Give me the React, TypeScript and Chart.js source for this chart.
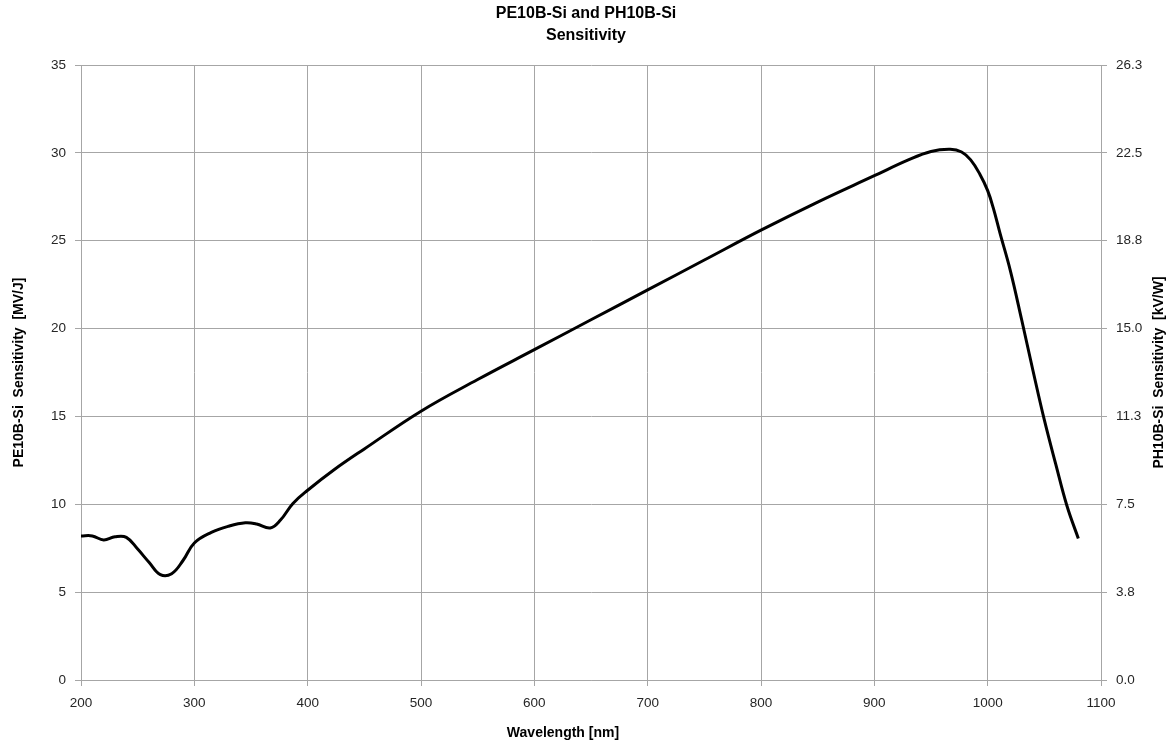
import React, { useEffect, useRef } from "react";
import { Chart, registerables } from "chart.js";

Chart.register(...registerables);

const chartTitle = ["PE10B-Si and PH10B-Si", "Sensitivity"];
const xTitle = "Wavelength [nm]";
const yLeftTitle = "PE10B-Si  Sensitivity  [MV/J]";
const yRightTitle = "PH10B-Si  Sensitivity  [kV/W]";

const wavelengths = [200, 210, 220, 230, 240, 250, 260, 270, 280, 290, 300, 315, 330, 345, 355, 367, 376, 387, 400, 423, 450, 500, 550, 600, 650, 700, 750, 800, 850, 900, 930, 950, 967, 977, 985, 993, 1000, 1005, 1011, 1020, 1030, 1040, 1050, 1060, 1070, 1080];
const sensitivity = [8.2, 8.2, 7.97, 8.15, 8.12, 7.45, 6.7, 6.0, 6.05, 6.8, 7.8, 8.4, 8.75, 8.95, 8.88, 8.65, 9.1, 10.05, 10.8, 11.95, 13.15, 15.3, 17.1, 18.8, 20.5, 22.2, 23.9, 25.6, 27.2, 28.7, 29.6, 30.08, 30.2, 30.05, 29.6, 28.8, 27.85, 26.85, 25.4, 23.3, 20.5, 17.6, 14.8, 12.3, 9.9, 8.05];

const xMin = 200;
const xMax = 1100;
const xStep = 100;
const xTickLabels = ["200", "300", "400", "500", "600", "700", "800", "900", "1000", "1100"];
const leftMax = 35;
const leftStep = 5;
const rightMax = 26.25;
const rightStep = 3.75;
const rightTickLabels = ["0.0", "3.8", "7.5", "11.3", "15.0", "18.8", "22.5", "26.3"];

const FONT = "'Liberation Sans', Arial, sans-serif";
const GRID = "#a6a6a6";
const TICK_COLOR = "#262626";

const axisTitlePlugin = {
  id: "axisTitles",
  afterDraw(chart: any) {
    const ctx = chart.ctx;
    const area = chart.chartArea;
    ctx.save();
    ctx.fillStyle = "#000";
    ctx.font = `bold 14px ${FONT}`;
    ctx.textAlign = "center";
    ctx.textBaseline = "middle";
    ctx.fillText(xTitle, 563, 733);
    const midY = (area.top + area.bottom) / 2;
    ctx.save();
    ctx.translate(19, midY);
    ctx.rotate(-Math.PI / 2);
    ctx.fillText(yLeftTitle, 0, 0);
    ctx.restore();
    ctx.save();
    ctx.translate(1159, midY);
    ctx.rotate(-Math.PI / 2);
    ctx.fillText(yRightTitle, 0, 0);
    ctx.restore();
    ctx.restore();
  },
};

export default function App() {
  const canvasRef = useRef<HTMLCanvasElement | null>(null);

  useEffect(() => {
    if (!canvasRef.current) return;
    const points = wavelengths.map((w, i) => ({ x: w, y: sensitivity[i] }));
    const chart = new Chart(canvasRef.current, {
      type: "line",
      data: {
        datasets: [
          {
            label: "Sensitivity",
            data: points,
            borderColor: "#000",
            borderWidth: 3,
            pointRadius: 0,
            fill: false,
            tension: 0.4,
            yAxisID: "y",
          },
        ],
      },
      options: {
        animation: false,
        responsive: true,
        maintainAspectRatio: false,
        layout: { padding: 0 },
        plugins: {
          legend: { display: false },
          tooltip: { enabled: false },
          title: {
            display: true,
            text: chartTitle,
            color: "#000",
            font: { family: FONT, size: 16, weight: "bold", lineHeight: 1.35 },
            padding: { top: 3, bottom: 18.8 },
          },
        },
        scales: {
          x: {
            type: "linear",
            min: xMin,
            max: xMax,
            ticks: {
              stepSize: xStep,
              color: TICK_COLOR,
              font: { family: FONT, size: 13.5 },
              padding: 9,
              maxRotation: 0,
              callback: (_v: any, i: number) => xTickLabels[i],
            },
            grid: { color: GRID, lineWidth: 1, tickLength: 6, drawTicks: true },
            border: { color: GRID },
            afterFit(scale: any) {
              scale.height = 68;
            },
          },
          y: {
            type: "linear",
            position: "left",
            min: 0,
            max: leftMax,
            ticks: {
              stepSize: leftStep,
              color: TICK_COLOR,
              font: { family: FONT, size: 13.5 },
              padding: 9,
            },
            grid: { color: GRID, lineWidth: 1, tickLength: 6 },
            border: { color: GRID },
            afterFit(scale: any) {
              scale.width = 81;
            },
          },
          y2: {
            type: "linear",
            position: "right",
            min: 0,
            max: rightMax,
            ticks: {
              stepSize: rightStep,
              color: TICK_COLOR,
              font: { family: FONT, size: 13.5 },
              padding: 9,
              callback: (_v: any, i: number) => rightTickLabels[i],
            },
            grid: { color: GRID, lineWidth: 1, tickLength: 6, drawOnChartArea: false },
            border: { color: GRID },
            afterFit(scale: any) {
              scale.width = 71;
            },
          },
        },
      },
      plugins: [axisTitlePlugin],
    });
    return () => chart.destroy();
  }, []);

  return (
    <div style={{ position: "fixed", left: 0, top: 0, width: 1172, height: 748, background: "#fff" }}>
      <canvas ref={canvasRef} />
    </div>
  );
}
